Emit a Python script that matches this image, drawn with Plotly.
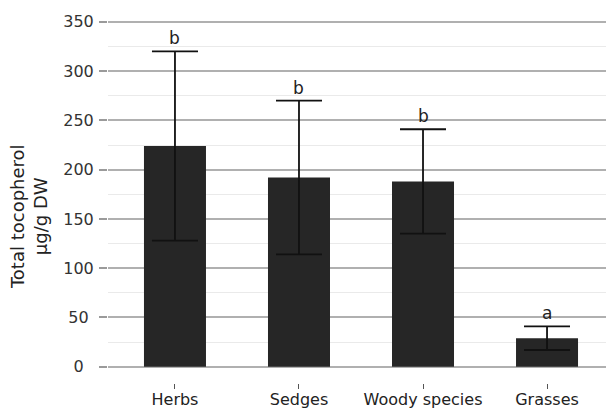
import plotly.graph_objects as go

categories = ["Herbs", "Sedges", "Woody species", "Grasses"]
means = [224, 192, 188, 29]
errors = [96, 78, 53, 12]
letters = ["b", "b", "b", "a"]
y_tickvals = [0, 50, 100, 150, 200, 250, 300, 350]
y_ticktext = ["0\u2007", "50\u2008", "100", "150", "200", "250", "300", "350"]

FONT = "DejaVu Sans, Liberation Sans, Arial, sans-serif"

fig = go.Figure()
fig.add_trace(go.Bar(
    x=categories, y=means, width=0.5,
    marker=dict(color="#262626", line=dict(width=0)),
    error_y=dict(type="data", array=errors, color="#111111", thickness=1.8, width=23),
))

for c, m, e, L in zip(categories, means, errors, letters):
    fig.add_annotation(x=c, y=m + e, text=L, showarrow=False, yshift=13,
                       yanchor="middle", font=dict(size=17, color="#222"))

fig.add_annotation(xref="paper", yref="paper", x=-0.156, y=0.445,
                   text="Total tocopherol<br>μg/g DW", textangle=-90,
                   showarrow=False, xanchor="center", yanchor="middle",
                   font=dict(size=18, color="#222"))

fig.update_layout(
    width=606, height=404,
    margin=dict(l=100, r=0, t=2, b=29),
    paper_bgcolor="white", plot_bgcolor="white",
    font=dict(family=FONT, color="#222"),
    showlegend=False,
    bargap=0.5,
)
fig.update_xaxes(
    range=[-0.54, 3.54], showgrid=False, showline=False, zeroline=False,
    ticks="outside", ticklen=5, tickwidth=1, tickcolor="#555",
    tickfont=dict(size=16, color="#222"), automargin=False,
    ticklabelstandoff=-3,
)
fig.update_yaxes(
    range=[-16.5, 362], tickvals=y_tickvals, ticktext=y_ticktext,
    showgrid=True, gridcolor="#b0b0b0", gridwidth=1.5, zeroline=False,
    showline=False, ticks="outside", ticklen=8, tickwidth=1.5, tickcolor="#9a9a9a",
    tickfont=dict(size=16, color="#333"), automargin=False, ticklabelstandoff=2,
    minor=dict(dtick=25, tick0=0, showgrid=True, gridcolor="#eaeaea", gridwidth=1, ticks=""),
)

fig.write_html("out.html")
